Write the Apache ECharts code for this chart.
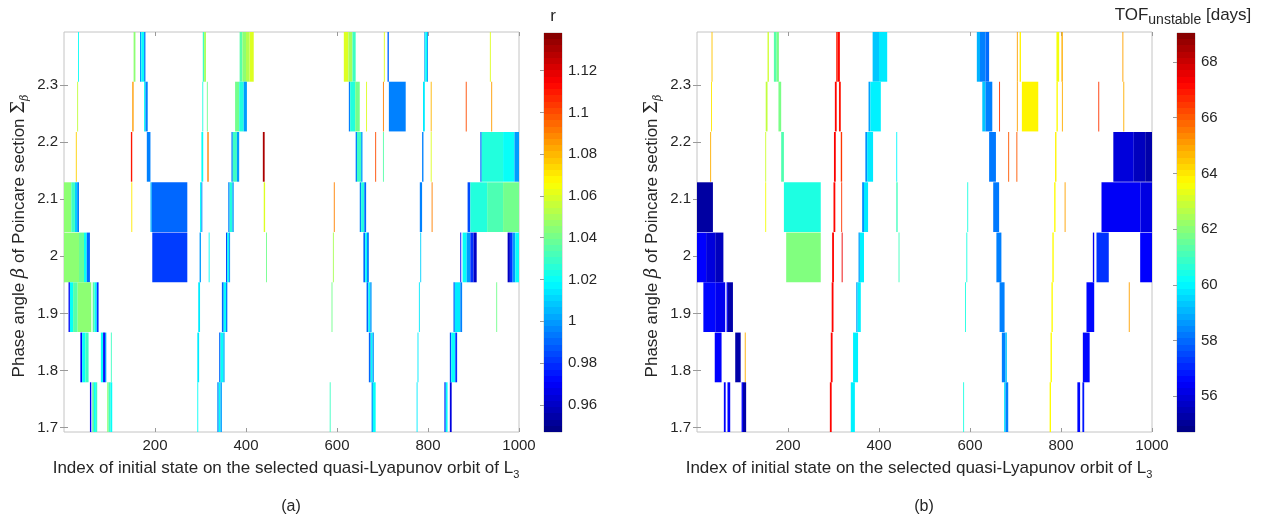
<!DOCTYPE html>
<html>
<head>
<meta charset="utf-8">
<script src="https://cdn.jsdelivr.net/npm/echarts@6/dist/echarts.min.js"></script>
<style>
  html, body { margin: 0; padding: 0; background: #ffffff; }
  #chart { width: 1273px; height: 521px; }
</style>
</head>
<body>
<div id="chart"></div>
<script>
// Phase angle of each Poincare section row (rad), listed top to bottom
const betaRows = [2.349, 2.262, 2.174, 2.086, 1.998, 1.911, 1.823, 1.736];
const xTicks = [200, 400, 600, 800, 1000];
const yTicks = [1.7, 1.8, 1.9, 2.0, 2.1, 2.2, 2.3];
const rTicks = [0.96, 0.98, 1.0, 1.02, 1.04, 1.06, 1.08, 1.1, 1.12];
const tofTicks = [56, 58, 60, 62, 64, 66, 68];
const rRange = [0.947, 1.138];
const tofRange = [54.72, 69.04];

// Unstable runs: [first index, last index, row of betaRows, r]
const rSegments = [
  [31,33,0,1.02],[153,157,0,1.045],
  [167,170,0,1.0],[170,176,0,1.02],[176,179,0,0.995],
  [305,308,0,1.03],[308,312,0,1.05],
  [386,392,0,1.035],[392,400,0,1.045],[400,408,0,1.052],[408,417,0,1.06],
  [615,625,0,1.06],[625,634,0,1.05],[634,641,0,1.03],
  [703,705,0,1.06],[711,714,0,0.99],
  [792,794,0,1.0],[794,798,0,1.02],[798,800,0,1.0],[936,938,0,1.06],

  [29,31,1,1.055],[150,153,1,1.085],
  [176,179,1,1.02],[179,184,1,0.995],
  [304,306,1,1.025],[314,316,1,1.04],
  [376,385,1,1.04],[385,395,1,1.025],[395,402,1,1.0],
  [626,629,1,0.995],[629,640,1,1.025],[640,650,1,1.04],
  [664,666,1,1.06],[701,703,1,1.09],[714,751,1,0.995],
  [789,793,1,1.015],[806,808,1,1.08],[883,885,1,1.1],[939,941,1,1.085],

  [26,28,2,1.075],[147,150,2,1.11],[182,190,2,0.995],
  [302,306,2,1.02],[315,318,2,1.09],
  [368,371,2,0.995],[371,380,2,1.03],[380,385,2,1.0],
  [437,441,2,1.13],
  [641,644,2,0.995],[644,653,2,1.03],[653,656,2,1.0],
  [684,686,2,1.1],[701,703,2,1.035],[787,790,2,0.995],[806,808,2,1.06],
  [915,918,2,0.99],[918,965,2,1.025],[965,990,2,1.02],[990,1000,2,1.0],

  [0,16,3,1.045],[16,24,3,1.03],[24,29,3,1.01],[29,33,3,0.995],
  [148,150,3,1.07],[190,193,3,1.005],[193,271,3,0.99],
  [299,302,3,1.02],[302,304,3,0.995],
  [361,364,3,0.995],[364,370,3,1.025],[370,373,3,1.0],
  [439,442,3,1.06],[593,595,3,1.09],
  [650,653,3,0.995],[653,660,3,1.025],[660,664,3,0.99],
  [782,787,3,0.995],[808,810,3,1.09],
  [887,893,3,0.985],[893,930,3,1.025],[930,965,3,1.033],[965,1000,3,1.04],

  [0,33,4,1.045],[33,44,4,1.038],[44,50,4,1.02],[50,57,4,0.99],
  [194,271,4,0.982],[298,301,4,1.0],[318,320,4,1.02],
  [356,359,4,0.985],[359,363,4,1.02],[363,365,4,0.995],
  [444,446,4,1.04],[591,593,4,1.05],
  [658,662,4,0.99],[662,666,4,1.02],[666,670,4,0.995],
  [783,785,4,1.01],
  [871,873,4,0.97],[876,885,4,1.02],[885,893,4,1.0],[893,900,4,0.98],[900,907,4,0.96],
  [975,980,4,0.96],[980,986,4,0.98],[986,992,4,1.0],[992,1000,4,1.02],

  [10,13,5,0.97],[13,20,5,1.02],[20,30,5,1.035],[30,60,5,1.045],
  [63,67,5,1.035],[67,72,5,1.02],[72,76,5,0.98],
  [295,299,5,1.015],
  [347,351,5,0.99],[351,356,5,1.02],[356,359,5,0.995],
  [588,590,5,1.04],
  [665,669,5,0.99],[669,673,5,1.02],[673,676,5,1.0],
  [780,782,5,1.015],
  [856,859,5,0.99],[859,871,5,1.015],[871,875,5,0.995],
  [950,952,5,1.04],

  [36,40,6,0.97],[40,47,6,1.02],[47,54,6,1.03],
  [81,86,6,1.02],[86,90,6,0.97],[90,93,6,1.0],
  [103,105,6,1.03],[293,297,6,1.015],
  [341,344,6,0.99],[344,350,6,1.02],[350,353,6,1.005],
  [670,674,6,0.99],[674,678,6,1.02],[678,681,6,1.0],
  [777,779,6,1.015],
  [848,851,6,0.985],[851,860,6,1.02],[860,864,6,0.98],

  [57,60,7,0.97],
  [62,66,7,1.035],[66,70,7,1.02],[70,73,7,1.03],
  [95,98,7,1.045],[98,102,7,1.03],[102,106,7,1.02],
  [293,295,7,1.02],
  [337,340,7,0.995],[340,344,7,1.02],[344,347,7,1.0],
  [584,586,7,1.03],
  [676,679,7,1.0],[679,685,7,1.02],
  [775,777,7,1.015],
  [836,839,7,0.98],[839,843,7,1.02],[848,852,7,0.965]
];

// Unstable runs: [first index, last index, row of betaRows, TOF in days]
const tofSegments = [
  [32,34,0,64.5],[155,158,0,63],
  [169,175,0,61.3],[175,180,0,61.8],
  [306,309,0,66.8],[309,314,0,67.2],
  [386,400,0,59.3],[400,418,0,59.8],
  [615,622,0,59.0],[622,634,0,58.3],[634,642,0,58.0],
  [703,705,0,65],[709,712,0,63.8],[790,796,0,63.5],[801,804,0,64.8],[935,937,0,65],

  [31,33,1,64],[151,155,1,62.8],[179,185,1,61.8],
  [303,307,1,67.2],[312,316,1,67],
  [377,381,1,58.8],[381,404,1,59.9],
  [627,634,1,59.3],[634,649,1,58.3],
  [664,666,1,66.5],[703,705,1,65],[714,750,1,63.8],
  [790,793,1,63.7],[802,804,1,64.8],[882,884,1,66.5],[937,939,1,64.8],

  [29,31,2,64.8],[150,152,2,63],[185,191,2,61.2],
  [301,305,2,67.3],[316,319,2,66.5],
  [370,374,2,58.5],[374,387,2,59.8],[438,440,2,60],
  [642,657,2,58.2],[684,686,2,66],[702,704,2,66],[787,790,2,63.8],
  [915,960,2,56.0],[960,985,2,55.6],[985,1000,2,55.3],

  [0,35,3,55.2],[150,152,3,63.5],[191,272,3,60.5],
  [300,304,3,67.2],[317,319,3,66.5],
  [363,367,3,58.5],[367,376,3,59.8],[438,441,3,61],
  [594,596,3,60.5],[651,664,3,58.2],[785,788,3,63.7],[808,810,3,65],
  [889,975,3,56.4],[975,1000,3,56.1],

  [0,20,4,56.5],[20,40,4,56.0],[40,58,4,55.6],
  [196,272,4,61.9],[297,301,4,67.2],[318,320,4,67.5],
  [355,358,4,58.8],[358,367,4,59.9],[443,445,4,61],
  [592,594,4,60.5],[658,669,4,58.3],[781,784,4,63.7],
  [870,873,4,56.3],[878,905,4,57.2],[974,1000,4,56.5],

  [14,40,5,56.6],[40,62,5,56.3],[65,68,5,56.3],[68,79,5,55.3],
  [296,300,5,67.2],[350,353,5,58.8],[353,360,5,59.9],
  [589,591,5,60.5],[665,676,5,58.3],[779,782,5,63.7],
  [856,873,5,56.6],[949,951,5,65],

  [39,54,6,56.5],[84,96,6,55.3],[105,107,6,64.8],
  [294,298,6,67.2],[343,354,6,59.9],
  [670,678,6,58.3],[678,681,6,59.3],[777,780,6,63.7],[848,863,6,56.6],

  [59,63,7,56.5],[67,73,7,56.5],[98,101,7,56.5],[101,108,7,55.3],
  [292,296,7,67.2],[338,347,7,59.9],[585,587,7,60.5],
  [675,678,7,59.8],[678,684,7,58.3],[775,778,7,63.7],
  [836,842,7,56.6],[847,851,7,56.8]
];

// Jet colour map
const jetStops = ['#000080','#0000ff','#0080ff','#00ffff','#80ff80','#ffff00','#ff8000','#ff0000','#800000'];

function hexToRgb(h) {
  return [parseInt(h.slice(1,3),16), parseInt(h.slice(3,5),16), parseInt(h.slice(5,7),16)];
}
function jetColor(t) {
  const n = jetStops.length - 1;
  const p = Math.max(0, Math.min(1, t)) * n;
  const i = Math.min(Math.floor(p), n - 1);
  const f = p - i;
  const a = hexToRgb(jetStops[i]), b = hexToRgb(jetStops[i + 1]);
  const c = a.map((v, k) => Math.round(v + (b[k] - v) * f));
  return 'rgb(' + c.join(',') + ')';
}
// 64-level stepped gradient for the colour bars
function steppedStops(levels) {
  const stops = [];
  for (let k = 0; k < levels; k++) {
    const col = jetColor((k + 0.5) / levels);
    stops.push({ offset: k / levels, color: col });
    stops.push({ offset: (k + 1) / levels, color: col });
  }
  return stops;
}

const rowStep = betaRows[0] - betaRows[1];
const yMin = betaRows[betaRows.length - 1] - rowStep / 2;
const yMax = betaRows[0] + rowStep / 2;

const FONT = '"Liberation Sans", Arial, Helvetica, sans-serif';
const SERIF = '"DejaVu Serif", "Liberation Serif", serif';
const TEXT = '#262626';
const BOX = '#c4c4c4';
const TICK_FS = 15;
const TITLE_FS = 17;
const fmt = v => String(+Number(v).toFixed(2));

function toData(segs) {
  return segs.map(s => [s[0], s[1], betaRows[s[2]], s[3]]);
}

function renderRun(params, api) {
  const half = rowStep / 2;
  const p0 = api.coord([api.value(0), api.value(2) + half]);
  const p1 = api.coord([api.value(1), api.value(2) - half]);
  return {
    type: 'rect',
    shape: { x: p0[0], y: p0[1], width: p1[0] - p0[0], height: p1[1] - p0[1] },
    style: { fill: api.visual('color') }
  };
}

function renderBar(params, api) {
  const p0 = api.coord([0, api.value(1)]);
  const p1 = api.coord([1, api.value(0)]);
  return {
    type: 'rect',
    shape: { x: p0[0], y: p0[1], width: p1[0] - p0[0], height: p1[1] - p0[1] },
    style: {
      fill: { type: 'linear', x: 0, y: 1, x2: 0, y2: 0, colorStops: steppedStops(64) }
    }
  };
}

function mainX(gridIndex, pos, labels) {
  return {
    type: 'value', gridIndex, position: pos, min: 0, max: 1000,
    axisLine: { show: false },
    splitLine: { show: false },
    axisTick: { show: true, inside: true, length: 4, customValues: xTicks, lineStyle: { color: '#9a9a9a' } },
    axisLabel: { show: labels, customValues: xTicks, margin: 6, color: TEXT, fontSize: TICK_FS, fontFamily: FONT, formatter: fmt }
  };
}
function mainY(gridIndex, pos, labels) {
  return {
    type: 'value', gridIndex, position: pos, min: yMin, max: yMax,
    axisLine: { show: false },
    splitLine: { show: false },
    axisTick: { show: true, inside: true, length: 4, customValues: yTicks, lineStyle: { color: '#9a9a9a' } },
    axisLabel: { show: labels, customValues: yTicks, margin: 6, color: TEXT, fontSize: TICK_FS, fontFamily: FONT, formatter: fmt }
  };
}
function barX(gridIndex) {
  return { type: 'value', gridIndex, min: 0, max: 1, show: false };
}
function barY(gridIndex, range, ticks) {
  return {
    type: 'value', gridIndex, position: 'right', min: range[0], max: range[1],
    axisLine: { show: false },
    splitLine: { show: false },
    axisTick: { show: true, inside: true, length: 4, customValues: ticks, lineStyle: { color: '#9a9a9a' } },
    axisLabel: { show: true, customValues: ticks, margin: 6, color: TEXT, fontSize: TICK_FS, fontFamily: FONT, formatter: fmt }
  };
}

const gridStyle = { show: true, borderColor: BOX, borderWidth: 1, backgroundColor: '#ffffff' };

const baseText = { fontSize: TITLE_FS, fontFamily: FONT, fill: TEXT, lineHeight: 24 };
const richStyles = {
  n: { fontSize: TITLE_FS, fontFamily: FONT, fill: TEXT, lineHeight: 24 },
  i: { fontSize: 18, fontFamily: SERIF, fontStyle: 'italic', fill: TEXT, lineHeight: 24 },
  m: { fontSize: 18, fontFamily: SERIF, fill: TEXT, lineHeight: 24 },
  sub: { fontSize: 11, fontFamily: FONT, fill: TEXT, lineHeight: 11, verticalAlign: 'bottom' },
  subi: { fontSize: 11, fontFamily: SERIF, fontStyle: 'italic', fill: TEXT, lineHeight: 11, verticalAlign: 'bottom' },
  sub2: { fontSize: 14, fontFamily: FONT, fill: TEXT, lineHeight: 14, verticalAlign: 'bottom' }
};

function yTitle(x) {
  return {
    type: 'text', x, y: 236, rotation: Math.PI / 2,
    style: Object.assign({}, baseText, {
      text: '{n|Phase angle }{i|β}{n| of Poincare section }{m|Σ}{subi|β}',
      rich: richStyles, align: 'center', verticalAlign: 'middle'
    })
  };
}
function xTitle(x) {
  return {
    type: 'text', x, y: 468,
    style: Object.assign({}, baseText, {
      text: '{n|Index of initial state on the selected quasi-Lyapunov orbit of L}{sub|3}',
      rich: richStyles, align: 'center', verticalAlign: 'middle'
    })
  };
}
function caption(x, s) {
  return {
    type: 'text', x, y: 507,
    style: { text: s, fontSize: 16, fontFamily: FONT, fill: TEXT, align: 'center', verticalAlign: 'middle' }
  };
}

const chart = echarts.init(document.getElementById('chart'), null, { renderer: 'canvas' });
chart.setOption({
  animation: false,
  backgroundColor: '#ffffff',
  grid: [
    Object.assign({ left: 64, top: 32, width: 455, height: 400 }, gridStyle),
    Object.assign({ left: 544, top: 33, width: 18, height: 399 }, gridStyle),
    Object.assign({ left: 697, top: 32, width: 455, height: 400 }, gridStyle),
    Object.assign({ left: 1177, top: 33, width: 18, height: 399 }, gridStyle)
  ],
  xAxis: [
    mainX(0, 'bottom', true), mainX(0, 'top', false), barX(1),
    mainX(2, 'bottom', true), mainX(2, 'top', false), barX(3)
  ],
  yAxis: [
    mainY(0, 'left', true), mainY(0, 'right', false), barY(1, rRange, rTicks),
    mainY(2, 'left', true), mainY(2, 'right', false), barY(3, tofRange, tofTicks)
  ],
  visualMap: [
    { type: 'continuous', show: false, seriesIndex: 0, dimension: 3, min: rRange[0], max: rRange[1], inRange: { color: jetStops } },
    { type: 'continuous', show: false, seriesIndex: 2, dimension: 3, min: tofRange[0], max: tofRange[1], inRange: { color: jetStops } }
  ],
  series: [
    { name: 'r', type: 'custom', xAxisIndex: 0, yAxisIndex: 0, clip: true, renderItem: renderRun,
      encode: { x: [0, 1], y: 2 }, data: toData(rSegments) },
    { name: 'r colour bar', type: 'custom', xAxisIndex: 2, yAxisIndex: 2, renderItem: renderBar,
      encode: { y: [0, 1] }, data: [[rRange[0], rRange[1]]], silent: true },
    { name: 'TOF', type: 'custom', xAxisIndex: 3, yAxisIndex: 3, clip: true, renderItem: renderRun,
      encode: { x: [0, 1], y: 2 }, data: toData(tofSegments) },
    { name: 'TOF colour bar', type: 'custom', xAxisIndex: 5, yAxisIndex: 5, renderItem: renderBar,
      encode: { y: [0, 1] }, data: [[tofRange[0], tofRange[1]]], silent: true }
  ],
  graphic: [
    yTitle(19), yTitle(652),
    xTitle(286), xTitle(919),
    caption(291, '(a)'), caption(924, '(b)'),
    { type: 'text', x: 553, y: 16,
      style: { text: 'r', fontSize: 17, fontFamily: FONT, fill: TEXT, align: 'center', verticalAlign: 'middle' } },
    { type: 'text', x: 1183, y: 15,
      style: Object.assign({}, baseText, {
        text: '{n|TOF}{sub2|unstable}{n| [days]}', rich: richStyles, align: 'center', verticalAlign: 'middle'
      }) }
  ]
});
</script>
</body>
</html>
